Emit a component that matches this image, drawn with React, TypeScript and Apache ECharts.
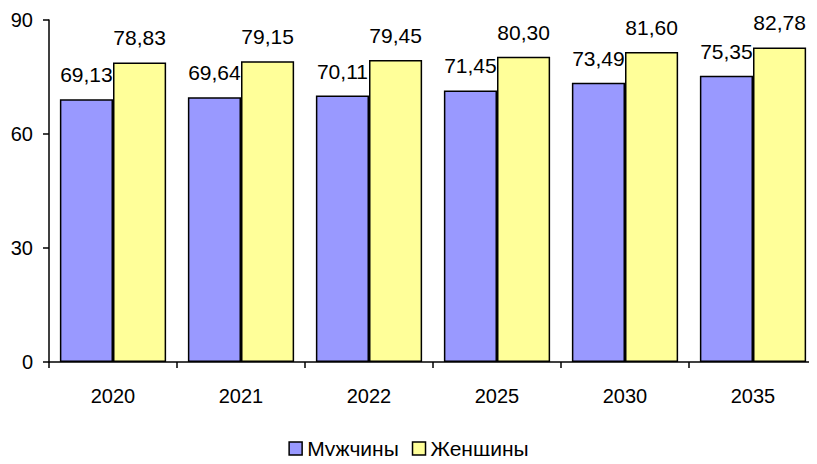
import React, { useEffect, useRef } from "react";
import * as echarts from "echarts";

const categories = ["2020", "2021", "2022", "2025", "2030", "2035"];
const men = [69.13, 69.64, 70.11, 71.45, 73.49, 75.35];
const women = [78.83, 79.15, 79.45, 80.3, 81.6, 82.78];
const seriesNames = ["Мужчины", "Женщины"];

const FONT = "'Liberation Sans', Arial, sans-serif";

export default function App() {
  const ref = useRef<HTMLDivElement>(null);
  useEffect(() => {
    if (!ref.current) return;
    const chart = echarts.init(ref.current, undefined, { renderer: "svg" });
    const fmt = (p: any) => Number(p.value).toFixed(2).replace(".", ",");
    const labelCfg = {
      show: true,
      position: "top" as const,
      distance: 14,
      color: "#000",
      fontSize: 21,
      fontFamily: FONT,
      formatter: fmt,
    };
    chart.setOption({
      animation: false,
      backgroundColor: "#fff",
      textStyle: { fontFamily: FONT },
      grid: { left: 49, right: 0, top: 20, bottom: 102, containLabel: false },
      legend: {
        bottom: 0,
        left: "center",
        icon: "rect",
        itemWidth: 13,
        itemHeight: 13,
        itemGap: 13,
        itemStyle: { borderColor: "#000", borderWidth: 1.5 },
        textStyle: { fontSize: 21, color: "#000", fontFamily: FONT },
        data: seriesNames,
      },
      xAxis: {
        type: "category",
        data: categories,
        axisLine: { lineStyle: { color: "#000", width: 1.5 } },
        axisTick: { show: true, alignWithLabel: false, length: 6, lineStyle: { color: "#000", width: 1.5 } },
        axisLabel: { color: "#000", fontSize: 20, fontFamily: FONT, margin: 24 },
        splitLine: { show: false },
      },
      yAxis: {
        type: "value",
        min: 0,
        max: 90,
        interval: 30,
        axisLine: { show: true, lineStyle: { color: "#000", width: 1.5 } },
        axisTick: { show: true, length: 6, lineStyle: { color: "#000", width: 1.5 } },
        axisLabel: { color: "#000", fontSize: 20, fontFamily: FONT, margin: 16 },
        splitLine: { show: false },
      },
      series: [
        {
          name: seriesNames[0],
          type: "bar",
          data: men,
          barGap: "0%",
          barCategoryGap: "17%",
          itemStyle: { color: "#9999FF", borderColor: "#000", borderWidth: 1.5 },
          label: labelCfg,
        },
        {
          name: seriesNames[1],
          type: "bar",
          data: women,
          barGap: "0%",
          barCategoryGap: "17%",
          itemStyle: { color: "#FFFF99", borderColor: "#000", borderWidth: 1.5 },
          label: labelCfg,
        },
      ],
    });
    return () => chart.dispose();
  }, []);
  return <div ref={ref} style={{ width: 817, height: 464, margin: -8 }} />;
}
